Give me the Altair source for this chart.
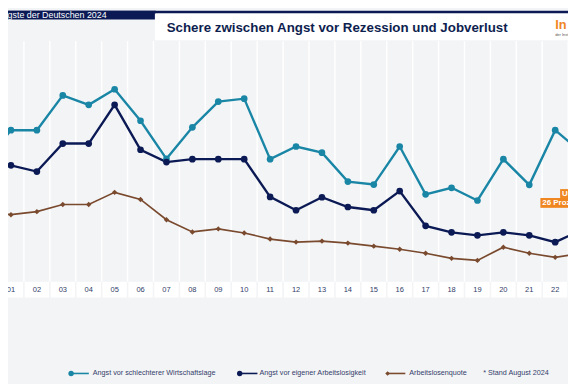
import altair as alt
import pandas as pd

# ---------------- data ----------------
years = list(range(2000, 2024))
wirtschaftslage = [47.5, 57.4, 57.4, 68.1, 65.2, 70.0, 60.3, 48.6, 58.3, 66.2, 67.1, 48.5,
                   52.4, 50.5, 41.6, 40.7, 52.4, 37.7, 39.7, 35.8, 48.5, 40.6, 57.4, 50.7]
arbeitslosigkeit = [44.5, 46.6, 44.7, 53.3, 53.3, 65.2, 51.4, 47.6, 48.5, 48.5, 48.5, 36.9,
                    32.8, 36.8, 33.8, 32.8, 38.7, 28.0, 26.0, 25.1, 26.0, 25.1, 23.0, 26.7]
arbeitslosenquote = [9.8, 9.5, 9.8, 10.5, 10.5, 11.7, 11.0, 9.0, 7.8, 8.1, 7.7, 7.1,
                     6.8, 6.9, 6.7, 6.4, 6.1, 5.7, 5.2, 5.0, 6.3, 5.7, 5.3, 5.7]
label_years = list(range(2001, 2023))
tick_labels = [f"{y % 100:02d}" for y in label_years]
cell_years = list(range(2000, 2024))

series_names = ["Angst vor schlechterer Wirtschaftslage",
                "Angst vor eigener Arbeitslosigkeit",
                "Arbeitslosenquote"]
series_colors = ["#1a86a6", "#0b1a55", "#7a4a2e"]

header_text = "Die Ängste der Deutschen 2024"
title_text = "Schere zwischen Angst vor Rezession und Jobverlust"
note_text = "* Stand August 2024"
anno_1 = "Unterschied:"
anno_2 = "26 Prozentpunkte"

# ---------------- layout ----------------
W, H = 568, 376
FONT = "Liberation Sans"
BG = "#f3f4f6"
NAVY = "#0b1a55"
ORANGE = "#f0861f"
TXT = "#33406a"

xs = alt.Scale(domain=[2000.886, 2022.494], nice=False, zero=False)
ys_fear = alt.Scale(domain=[-19.79, 94.15], nice=False, zero=False)
ys_quote = alt.Scale(domain=[-6.913, 29.592], nice=False, zero=False)

fear = pd.DataFrame({
    "year": years * 2,
    "value": wirtschaftslage + arbeitslosigkeit,
    "series": [series_names[0]] * len(years) + [series_names[1]] * len(years),
})
quote = pd.DataFrame({"year": years, "value": arbeitslosenquote})
grid = pd.DataFrame({"g": [y + 0.5 for y in cell_years]})
cells = pd.DataFrame({"a": [y - 0.47 for y in cell_years],
                      "b": [y + 0.47 for y in cell_years]})
labels = pd.DataFrame({"year": label_years, "lab": tick_labels})
one = pd.DataFrame({"k": [0]})

color_scale = alt.Scale(domain=series_names[:2], range=series_colors[:2])


def rect(x, x2, y, y2, color):
    return alt.Chart(one).mark_rect(color=color).encode(
        x=alt.value(x), x2=alt.value(x2), y=alt.value(y), y2=alt.value(y2))


def text(t, x, y, size, color, weight="normal", align="left", baseline="middle"):
    return alt.Chart(one).mark_text(
        text=t, font=FONT, fontSize=size, color=color, fontWeight=weight,
        align=align, baseline=baseline).encode(x=alt.value(x), y=alt.value(y))


layers = []

# header
layers.append(rect(0, W, 0, 3, NAVY))
layers.append(rect(0, 150, 0, 9, NAVY))
layers.append(rect(149, W, 3, 30, "white"))
layers.append(text(header_text, 100, 7, 9, "white", baseline="alphabetic", align="right"))
layers.append(text(title_text, 161, 18, 13.5, "#0e1e4f", weight="bold"))
layers.append(text("In", 555, 14.5, 13, ORANGE, weight="bold"))
layers.append(text("der Institut", 555, 24.5, 4, "#555555"))

# vertical separators
layers.append(alt.Chart(grid).mark_rule(color="white", strokeWidth=1.5).encode(
    x=alt.X("g:Q", scale=xs, axis=None), y=alt.value(31), y2=alt.value(275)))

# x label band
layers.append(alt.Chart(cells).mark_rect(color="white").encode(
    x=alt.X("a:Q", scale=xs, axis=None), x2="b:Q", y=alt.value(275), y2=alt.value(291)))
layers.append(alt.Chart(labels).mark_text(font=FONT, fontSize=7.6, color=TXT).encode(
    x=alt.X("year:Q", scale=xs, axis=None), y=alt.value(283), text="lab:N"))

# fear series
layers.append(alt.Chart(fear).mark_line(strokeWidth=2.4, clip=True).encode(
    x=alt.X("year:Q", scale=xs, axis=None),
    y=alt.Y("value:Q", scale=ys_fear, axis=None),
    color=alt.Color("series:N", scale=color_scale, legend=None),
    detail="series:N"))
layers.append(alt.Chart(fear).mark_circle(size=46, opacity=1, clip=True).encode(
    x=alt.X("year:Q", scale=xs, axis=None),
    y=alt.Y("value:Q", scale=ys_fear, axis=None),
    color=alt.Color("series:N", scale=color_scale, legend=None)))

# unemployment rate (own scale)
q_line = alt.Chart(quote).mark_line(strokeWidth=1.7, color=series_colors[2], clip=True).encode(
    x=alt.X("year:Q", scale=xs, axis=None),
    y=alt.Y("value:Q", scale=ys_quote, axis=None))
q_pts = alt.Chart(quote).mark_point(shape="diamond", filled=True, size=30, opacity=1,
                                    color=series_colors[2], clip=True).encode(
    x=alt.X("year:Q", scale=xs, axis=None),
    y=alt.Y("value:Q", scale=ys_quote, axis=None))

# annotation
anno = [rect(560, W, 181, 190, ORANGE), rect(540, W, 190, 200, ORANGE),
        text(anno_1, 562, 185.5, 8, "white", weight="bold"),
        text(anno_2, 542, 195, 8, "white", weight="bold")]

# legend
leg = []
leg_pos = [(64, 86), (235, 255), (385, 407)]
for i, (sx, tx) in enumerate(leg_pos):
    leg.append(alt.Chart(one).mark_rule(color=series_colors[i], strokeWidth=1.6).encode(
        x=alt.value(sx), x2=alt.value(sx + 18), y=alt.value(368)))
    leg.append(alt.Chart(one).mark_point(
        shape="diamond" if i == 2 else "circle", filled=True, opacity=1,
        size=22 if i == 2 else 30, color=series_colors[i]).encode(
        x=alt.value(sx), y=alt.value(368)))
    leg.append(text(series_names[i], tx, 368, 7.3, TXT))
leg.append(text(note_text, 482, 368, 7.3, TXT))

fear_layer = alt.layer(*layers)
chart = alt.layer(fear_layer, q_line, q_pts, *anno, *leg).resolve_scale(
    y="independent"
).properties(
    width=W, height=H, background=BG, padding=0,
    autosize=alt.AutoSizeParams(type="none")
).configure_view(stroke=None, fill=BG)

chart.save("out.html", embed_options={"renderer": "svg", "actions": False})
